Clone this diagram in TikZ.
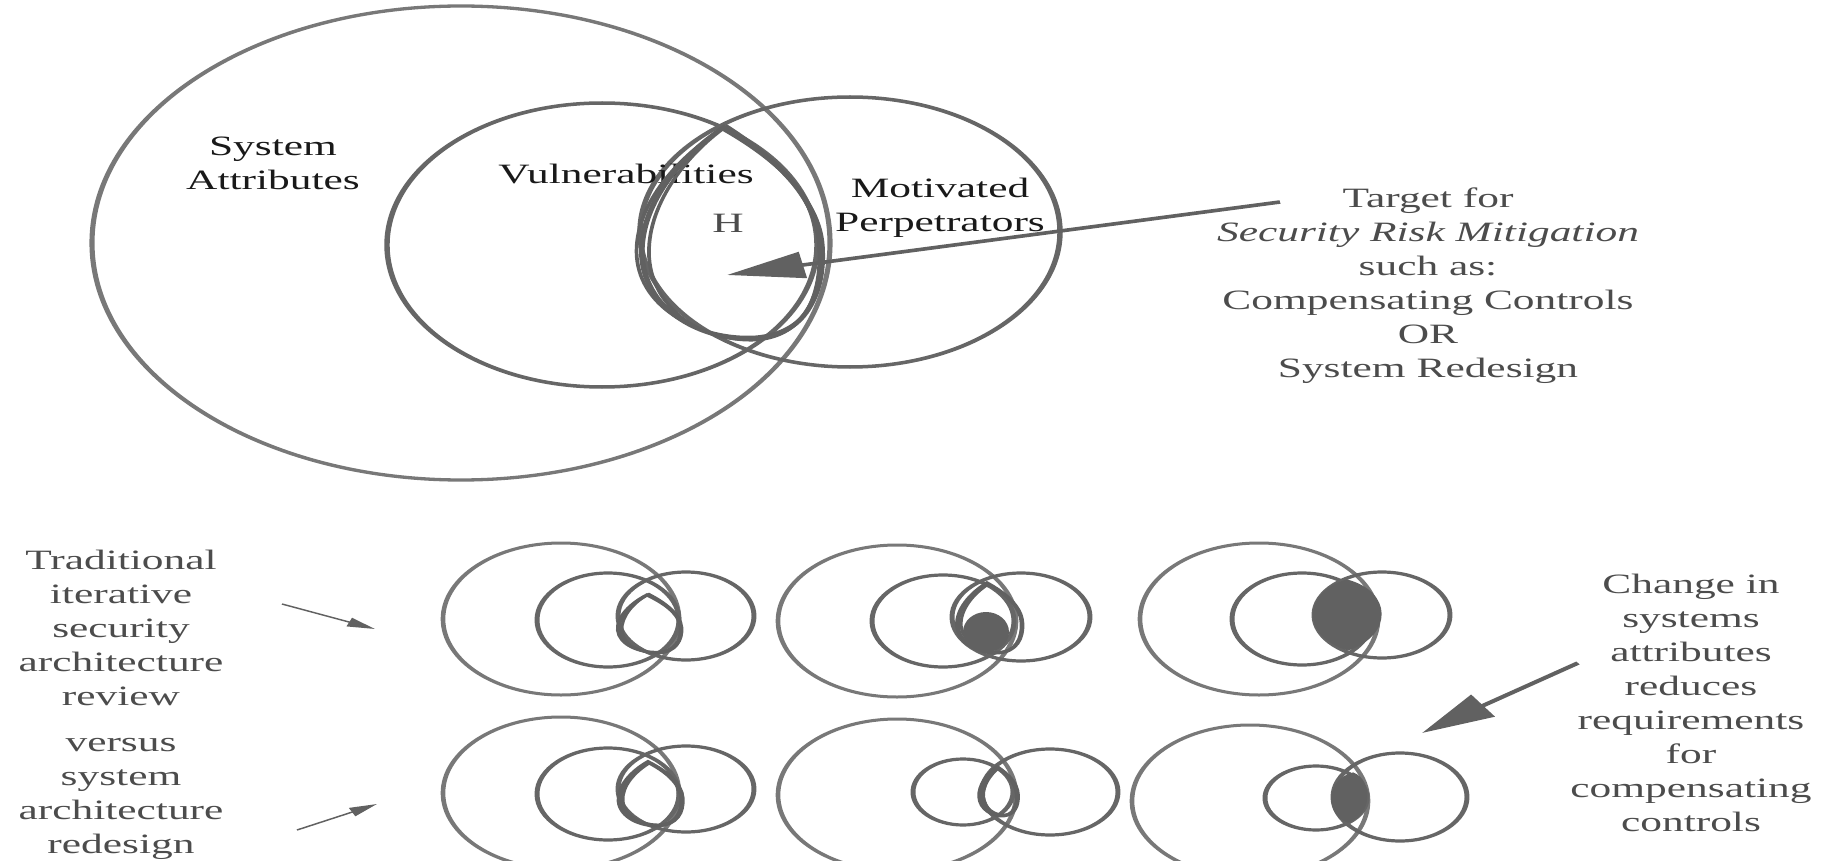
\documentclass[tikz,border=0pt]{standalone}
\usepackage{fontspec}
\setmainfont{Liberation Serif}
\usetikzlibrary{arrows.meta}

\definecolor{ringbig}{gray}{0.47}
\definecolor{ring}{gray}{0.40}
\definecolor{tearc}{gray}{0.38}
\definecolor{inkdark}{gray}{0.10}
\definecolor{inkgray}{gray}{0.30}

\tikzset{
  outer/.style={draw=ringbig, line width=3.3pt},
  inner/.style={draw=ring, line width=3.5pt},
  minio/.style={draw=ringbig, line width=3.0pt},
  minii/.style={draw=ring, line width=3.2pt},
  lbl/.style={font=\fontsize{28}{34}\selectfont, align=center, inner sep=0pt},
  bigarrow/.style={draw=tearc, line width=3.6pt, -{Triangle[length=50pt,width=26pt]}},
  thinarrow/.style={draw=tearc, line width=1.4pt, -{Triangle[length=18pt,width=9pt]}},
  blob/.style={fill=tearc, draw=tearc, line width=1pt},
  pics/tear/.style={code={
    \path[pic actions] (0,0) .. controls (-45,30) and (-85,80) .. (-82,130)
      .. controls (-78,185) and (-20,215) .. (32,212)
      .. controls (80,208) and (100,170) .. (97,120)
      .. controls (94,70) and (50,30) .. (0,0) -- cycle;
  }}
}

\begin{document}
\begin{tikzpicture}
\useasboundingbox (0pt,0pt) rectangle (1824pt,-861pt);
\clip (0pt,0pt) rectangle (1824pt,-861pt);
\begin{scope}[transform canvas={xscale=1.55}, x=0.64516pt, y=-1pt]

  % ---------- main diagram ----------
  \draw[outer] (461,243) ellipse [x radius=369, y radius=237];
  \draw[inner] (602,245) ellipse [x radius=215, y radius=142];
  \draw[inner] (850,232) ellipse [x radius=210, y radius=135];

  \node[lbl, text=inkdark] (sysLbl) at (273,163) {System\\Attributes};
  \node[lbl, text=inkdark] (vulLbl) at (626,174) {Vulnerabilities};
  \node[lbl, text=inkdark] (motLbl) at (940,208) {Motivated\\Perpetrators};
  \node[lbl, text=inkgray] (hLbl) at (728,223) {H};

  % hand-drawn overlap region, several strokes
  \pic[draw=tearc, line width=3.6pt] at (724,127) {tear};
  \pic[draw=tearc, line width=2.4pt, xscale=1.04, yscale=0.98] at (722,129) {tear};
  \pic[draw=tearc, line width=2.4pt, xscale=0.95, yscale=1.01] at (727,126) {tear};

  \node[lbl, text=inkgray] (target) at (1428,286)
    {Target for\\\textit{Security Risk Mitigation}\\such as:\\Compensating Controls\\OR\\System Redesign};
  \coordinate (tgtTail) at (1280,202);
  \coordinate (tgtHead) at (727,275);
  \draw[bigarrow] (tgtTail) -- (tgtHead);

  % ---------- row 1 ----------
  \draw[minio] (561,619) ellipse [x radius=118, y radius=76];
  \draw[minii] (608,620) ellipse [x radius=71, y radius=47];
  \draw[minii] (686,616) ellipse [x radius=68, y radius=44];
  \pic[draw=tearc, line width=3pt, xscale=0.35, yscale=0.27] at (647,595) {tear};
  \pic[draw=tearc, line width=2pt, xscale=0.33, yscale=0.28] at (649,594) {tear};

  \draw[minio] (897,621) ellipse [x radius=119, y radius=76];
  \draw[minii] (943,621) ellipse [x radius=71, y radius=46];
  \draw[minii] (1021,617) ellipse [x radius=69, y radius=44];
  \pic[draw=tearc, line width=3pt, xscale=0.36, yscale=0.33] at (987,583) {tear};
  \pic[draw=tearc, line width=2pt, xscale=0.34, yscale=0.32] at (989,584) {tear};
  \fill[tearc] (986,632) ellipse [x radius=23, y radius=20];

  \draw[minio] (1259,619) ellipse [x radius=119, y radius=76];
  \draw[minii] (1302,619) ellipse [x radius=70, y radius=46];
  \draw[minii] (1382,615) ellipse [x radius=68, y radius=43];
  \path[blob] (1347,580) .. controls (1305,592) and (1300,635) .. (1348,650)
    .. controls (1392,635) and (1392,592) .. (1347,580) -- cycle;

  % ---------- row 2 ----------
  \draw[minio] (561,793) ellipse [x radius=118, y radius=76];
  \draw[minii] (608,794) ellipse [x radius=71, y radius=46];
  \draw[minii] (686,789) ellipse [x radius=68, y radius=43];
  \pic[draw=tearc, line width=3.4pt, xscale=0.35, yscale=0.30] at (648,762) {tear};
  \pic[draw=tearc, line width=2pt, xscale=0.33, yscale=0.29] at (650,763) {tear};

  \draw[minio] (897,795) ellipse [x radius=119, y radius=76];
  \draw[minii] (963,792) ellipse [x radius=50, y radius=33];
  \draw[minii] (1050,792) ellipse [x radius=68, y radius=43];
  \pic[draw=tearc, line width=3.2pt, xscale=0.21, yscale=0.23] at (997,767) {tear};
  \pic[draw=tearc, line width=2pt, xscale=0.19, yscale=0.22] at (999,768) {tear};

  \draw[minio] (1250,801) ellipse [x radius=118, y radius=76];
  \draw[minii] (1316,798) ellipse [x radius=51, y radius=32];
  \draw[minii] (1400,797) ellipse [x radius=67, y radius=44];
  \path[blob] (1353,773) .. controls (1326,780) and (1326,815) .. (1348,822)
    .. controls (1372,815) and (1372,780) .. (1353,773) -- cycle;

  % ---------- side labels ----------
  \node[lbl, text=inkgray] (trad) at (121,628)
    {Traditional\\iterative\\security\\architecture\\review};
  \node[lbl, text=inkgray] (versus) at (121,799)
    {versus\\system\\architecture\\redesign};
  \coordinate (tradTail) at (282,604);
  \coordinate (tradHead) at (375,629);
  \draw[thinarrow] (tradTail) -- (tradHead);
  \coordinate (redTail) at (297,830);
  \coordinate (redHead) at (377,804);
  \draw[thinarrow] (redTail) -- (redHead);

  \node[lbl, text=inkgray] (change) at (1691,703)
    {Change in\\systems\\attributes\\reduces\\requirements\\for\\compensating\\controls};
  \coordinate (chgTail) at (1578,663);
  \coordinate (chgHead) at (1422,733);
  \draw[bigarrow, -{Triangle[length=48pt,width=26pt]}] (chgTail) -- (chgHead);

\end{scope}
\end{tikzpicture}
\end{document}
